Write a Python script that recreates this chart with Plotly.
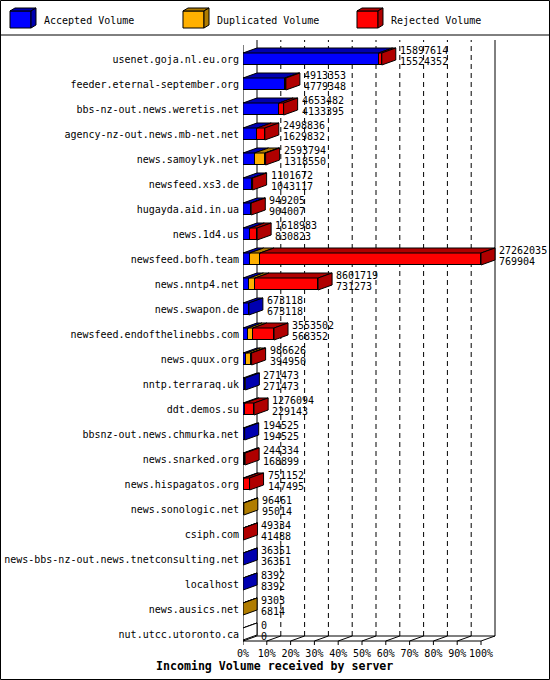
import plotly.graph_objects as go

hosts = [
    "usenet.goja.nl.eu.org", "feeder.eternal-september.org", "bbs-nz-out.news.weretis.net",
    "agency-nz-out.news.mb-net.net", "news.samoylyk.net", "newsfeed.xs3.de", "hugayda.aid.in.ua",
    "news.1d4.us", "newsfeed.bofh.team", "news.nntp4.net", "news.swapon.de",
    "newsfeed.endofthelinebbs.com", "news.quux.org", "nntp.terraraq.uk", "ddt.demos.su",
    "bbsnz-out.news.chmurka.net", "news.snarked.org", "news.hispagatos.org", "news.sonologic.net",
    "csiph.com", "news-bbs-nz-out.news.tnetconsulting.net", "localhost", "news.ausics.net",
    "nut.utcc.utoronto.ca",
]
total_volume = [15897614, 4913353, 4653482, 2498836, 2593794, 1101672, 949205, 1618983,
                27262035, 8601719, 673118, 3553502, 986626, 271473, 1276094, 194525, 244334,
                751152, 96461, 49334, 36351, 8392, 9303, 0]
accepted_volume = [15524352, 4779348, 4133395, 1629832, 1318550, 1043117, 904007, 830823,
                   769904, 731273, 673118, 568352, 394950, 271473, 229143, 194525, 168899,
                   147495, 95014, 41488, 36351, 8392, 6814, 0]
duplicated_volume = [0, 0, 0, 0, 1180000, 0, 0, 0, 1180000, 650000, 0, 560000, 520000, 0, 0,
                     0, 0, 0, 1447, 0, 0, 0, 2489, 0]
rejected_volume = [t - a - d for t, a, d in zip(total_volume, accepted_volume, duplicated_volume)]
x_ticks = [0, 10, 20, 30, 40, 50, 60, 70, 80, 90, 100]
x_tick_labels = [f"{v}%" for v in x_ticks]
series_names = ["Accepted Volume", "Duplicated Volume", "Rejected Volume"]

FRONT = ["#0000FF", "#FFB000", "#FF0000"]
DARK = ["#0000B0", "#B07C00", "#B00000"]
FONT = "DejaVu Sans Mono, monospace"

W, H = 550, 680
L, R, T, B = 243, 549, 40, 646
PXU = 2.38          # pixels per percent
ROWPX = 25          # pixels per row
ROW0 = 59           # pixel y of first row center
XMAX = (R - L) / PXU
Y_LO = (B - ROW0) / ROWPX
Y_HI = (T - ROW0) / ROWPX
DX = 14 / PXU
DY = 5 / ROWPX
HALF = 0.24
FLOOR = (641 - ROW0) / ROWPX
TOPY = (45 - ROW0) / ROWPX

vmax = max(total_volume)
pct = lambda v: v / vmax * 100.0
rows = list(range(len(hosts)))
series = [accepted_volume, duplicated_volume, rejected_volume]

fig = go.Figure()
for name, vals, col in zip(series_names, series, FRONT):
    fig.add_trace(go.Bar(
        y=rows, x=[pct(v) for v in vals], orientation="h", width=2 * HALF,
        marker=dict(color=col, line=dict(color="black", width=1)),
        name=name, showlegend=False, hoverinfo="skip",
    ))

shapes = []
def line(x0, y0, x1, y1, dash="solid", layer="below", xref="x", yref="y"):
    shapes.append(dict(type="line", x0=x0, y0=y0, x1=x1, y1=y1, xref=xref, yref=yref,
                       layer=layer, line=dict(color="black", width=1, dash=dash)))

def poly(pts, fill, layer="above", xref="x", yref="y"):
    path = "M " + " L ".join(f"{x:.4f},{y:.4f}" for x, y in pts) + " Z"
    shapes.append(dict(type="path", path=path, xref=xref, yref=yref, layer=layer,
                       fillcolor=fill, line=dict(color="black", width=1)))

# back wall and floor
back_floor = FLOOR - DY
for t in x_ticks:
    line(t + DX, back_floor, t + DX, Y_HI, dash="solid" if t in (0, 100) else "5px,4px")
    line(t, FLOOR, t + DX, back_floor)
    line(t, FLOOR, t, FLOOR + 4 / ROWPX, layer="above")
line(DX, back_floor, 100 + DX, back_floor)
line(0, FLOOR, 100, FLOOR, layer="above")
line(0, FLOOR, 0, TOPY, layer="above")

# 3D faces
for i in rows:
    top = i - HALF
    x0 = 0.0
    last_dark = "white"
    for k in range(3):
        w = pct(series[k][i])
        if w > 0:
            poly([(x0, top), (x0 + w, top), (x0 + w + DX, top - DY), (x0 + DX, top - DY)], DARK[k])
            last_dark = DARK[k]
            x0 += w
    xe = pct(total_volume[i])
    if total_volume[i] == 0:
        poly([(0, top), (DX, top - DY), (DX, top - DY)], "white")
    poly([(xe, top), (xe + DX, top - DY), (xe + DX, i + HALF - DY), (xe, i + HALF)], last_dark)

annotations = []
for i in rows:
    xl = pct(total_volume[i]) + DX + 2 / PXU
    for txt, ys in ((f"{total_volume[i]}", 9), (f"{accepted_volume[i]}", -2)):
        annotations.append(dict(x=xl, y=i, xref="x", yref="y", text=txt, showarrow=False,
                                xanchor="left", yanchor="middle", yshift=ys,
                                font=dict(family=FONT, size=10, color="black")))

# pixel -> paper helpers for page decoration
def xp(px): return (px - L) / (R - L)
def yp(py): return (B - py) / (B - T)

# outer frame and legend separator
shapes.append(dict(type="rect", xref="paper", yref="paper", x0=xp(0.5), x1=xp(549.5),
                   y0=yp(0.5), y1=yp(679.5), line=dict(color="black", width=1), layer="above"))
line(xp(0), yp(35), xp(550), yp(35), xref="paper", yref="paper", layer="above")

legend_x = [10, 183, 357]
for k in range(3):
    lx = legend_x[k]
    fx0, fx1, fy0, fy1 = lx, lx + 21, 11, 28
    poly([(xp(fx0), yp(fy0)), (xp(fx1), yp(fy0)), (xp(fx1), yp(fy1)), (xp(fx0), yp(fy1))],
         FRONT[k], xref="paper", yref="paper")
    poly([(xp(fx0), yp(fy0)), (xp(fx1), yp(fy0)), (xp(fx1 + 5), yp(fy0 - 3)), (xp(fx0 + 5), yp(fy0 - 3))],
         DARK[k], xref="paper", yref="paper")
    poly([(xp(fx1), yp(fy0)), (xp(fx1 + 5), yp(fy0 - 3)), (xp(fx1 + 5), yp(fy1 - 3)), (xp(fx1), yp(fy1))],
         DARK[k], xref="paper", yref="paper")
    annotations.append(dict(x=xp(lx + 32), y=yp(20.5), xref="paper", yref="paper",
                            text=series_names[k], showarrow=False, xanchor="left", yanchor="middle",
                            font=dict(family=FONT, size=10, color="black")))

annotations.append(dict(x=xp(274), y=yp(666), xref="paper", yref="paper",
                        text="<b>Incoming Volume received by server</b>", showarrow=False,
                        xanchor="center", yanchor="middle",
                        font=dict(family=FONT, size=11.6, color="black")))

fig.update_layout(
    width=W, height=H, barmode="stack", bargap=0,
    margin=dict(l=L, r=W - R, t=T, b=H - B, pad=0),
    paper_bgcolor="white", plot_bgcolor="white",
    shapes=shapes, annotations=annotations, showlegend=False,
    xaxis=dict(range=[0, XMAX], tickvals=x_ticks, ticktext=x_tick_labels, ticks="",
               showgrid=False, zeroline=False, showline=False, fixedrange=True,
               tickfont=dict(family=FONT, size=10, color="black")),
    yaxis=dict(range=[Y_LO, Y_HI], tickvals=rows, ticktext=hosts, ticks="",
               showgrid=False, zeroline=False, showline=False, fixedrange=True,
               ticklabelstandoff=3,
               tickfont=dict(family=FONT, size=10, color="black")),
)

fig.write_html("out.html", config={"displayModeBar": False},
               post_script="document.body.style.margin='0';document.body.style.overflow='hidden';")
